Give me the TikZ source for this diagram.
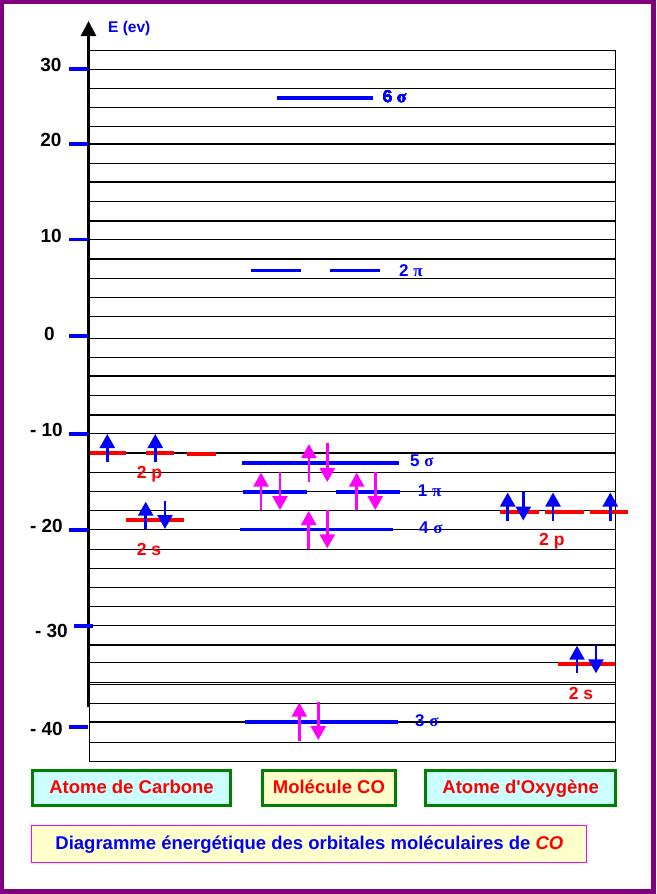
\documentclass[tikz,border=0pt]{standalone}
\usepackage{fontspec}
\setmainfont{Liberation Sans}[Ligatures=TeXOff]
\newfontfamily\grecfont{Liberation Serif}
\usetikzlibrary{arrows.meta}
\definecolor{cadre}{RGB}{128,0,128}
\definecolor{niveau}{RGB}{0,0,255}
\definecolor{atome}{RGB}{255,0,0}
\definecolor{spinmol}{RGB}{255,0,255}
\definecolor{vertbord}{RGB}{0,128,0}
\definecolor{fondcyan}{RGB}{204,255,255}
\definecolor{fondjaune}{RGB}{255,255,204}
\newcommand{\taille}[1]{\fontsize{#1}{#1}\selectfont}
\newcommand{\electron}[4]{% #1 = couleur, #2 = x, #3 = depart, #4 = pointe
  \draw[spin, #1] (#2,#3) -- (#2,#4);
}
\tikzset{
  grille/.style={line width=0.9pt},
  grillefort/.style={line width=1.8pt},
  niv/.style={line width=3.6pt, niveau},
  nivat/.style={line width=3.6pt, atome},
  spin/.style={line width=2.6pt, -{Triangle[length=14pt,width=15pt]}},
  graduation/.style={font=\taille{19}\bfseries, anchor=base east, inner sep=0pt},
  nomorb/.style={text=niveau, font=\taille{17}\bfseries, anchor=base west, inner sep=0pt},
  nomat/.style={text=atome, font=\taille{17.5}\bfseries, anchor=base west, inner sep=0pt},
  boite/.style={draw=vertbord, line width=3pt, minimum height=35pt, inner sep=0pt,
    text height=13.5pt, text depth=3.5pt, text=atome, font=\taille{18.5}\bfseries},
}
\begin{document}
\begin{tikzpicture}[x=1pt, y=-1pt]
  \useasboundingbox (0,0) rectangle (656,894);
  % cadre
  \fill[cadre] (0,0) rectangle (656,894);
  \fill[white] (3.5,3.5) rectangle (650.5,889);

  % quadrillage
  \foreach \y in {50.3,69.3,88.3,107.3,126.3,163.3,201.3,239.3,278.3,297.3,316.3,
                  338.3,357.3,395.3,433,472,491,510.3,529.3,549.3,568.3,587.3,606.3,
                  625.3,662.3,682.3,684.3,703,742.3,761.3}
    \draw[grille] (89,\y) -- (615.5,\y);
  \foreach \y in {143.7,181.7,220.7,258.7,376,414.7,452.7,644.7,721.7}
    \draw[grillefort] (89,\y) -- (615.5,\y);
  \draw[grille] (615.5,50.3) -- (615.5,761.3);
  \draw[grille] (89.3,703) -- (89.3,761.3);

  % axe des energies
  \draw[line width=2.8pt, -{Triangle[length=15pt,width=15pt]}] (88.5,707) -- (88.5,21);
  \node[text=niveau, font=\taille{15.5}\bfseries, anchor=base west, inner sep=0pt]
    (axeE) at (108,32.3) {E (ev)};
  \foreach \y in {68.7,143.7,239.3,335.7,433.7,529.7,726.7}
    \draw[niv] (69,\y) -- (88,\y);
  \draw[niv] (74,625.7) -- (92.7,625.7);
  \foreach \lab/\x/\y [count=\i] in {30/61.7/71.7, 20/61.7/146.7, 10/62/242.7, 0/55/340.7,
                                     - 10/63/436.7, - 20/63/532.7, - 30/68/637.7, - 40/63/735}
    \node[graduation] (grad\i) at (\x,\y) {\lab};

  % atome de carbone
  \draw[nivat] (90,452.7) -- (125.7,452.7);
  \draw[nivat] (146,452.7) -- (173.7,452.7);
  \draw[nivat] (187,453.7) -- (215.7,453.7);
  \draw[nivat] (126,519.7) -- (184,519.7);
  \electron{niveau}{107.3}{461.7}{434}
  \electron{niveau}{155.3}{461.7}{434}
  \electron{niveau}{145.7}{529}{501.7}
  \electron{niveau}{165}{501}{529}
  \node[nomat] (c2p) at (136.7,478.3) {2 p};
  \node[nomat] (c2s) at (136.7,555) {2 s};

  % molecule CO
  \draw[niv] (277,97.7) -- (372.7,97.7);
  \draw[niv] (251,270.3) -- (301,270.3);
  \draw[niv] (330,270.3) -- (380,270.3);
  \draw[niv] (242,462.7) -- (399,462.7);
  \draw[niv] (243.3,491.7) -- (306.7,491.7);
  \draw[niv] (336,491.7) -- (400,491.7);
  \draw[niv] (240,529.3) -- (392.7,529.3);
  \draw[niv] (245,721.7) -- (397.7,721.7);
  \foreach \x/\a/\b in {309/482/444, 327.3/443/482,
                        261/510/472.7, 280/471.7/510, 356.7/510/472.7, 375.3/471.7/510,
                        308.7/549/511, 327.3/510/548.3,
                        299.3/740.7/702.7, 318.3/701.7/740}
    \electron{spinmol}{\x}{\a}{\b}
  \node[nomorb] (o6s) at (382.7,102.3) {6 {\grecfont σ}};
  \node[nomorb] (o2pi) at (399,276) {2 {\grecfont π}};
  \node[nomorb] (o5s) at (410,466) {5 {\grecfont σ}};
  \node[nomorb] (o1pi) at (417.7,496.7) {1 {\grecfont π}};
  \node[nomorb] (o4s) at (419,533.3) {4 {\grecfont σ}};
  \node[nomorb] (o3s) at (415,726.7) {3 {\grecfont σ}};

  % atome d'oxygene
  \draw[nivat] (500,512) -- (539,512);
  \draw[nivat] (545,512) -- (584,512);
  \draw[nivat] (590,512) -- (627.7,512);
  \draw[nivat] (558,663.7) -- (615,663.7);
  \electron{niveau}{507.7}{521}{492.5}
  \electron{niveau}{523.3}{492}{520.5}
  \electron{niveau}{553}{521}{492.5}
  \electron{niveau}{610.3}{521}{492.5}
  \electron{niveau}{577}{673.3}{645.7}
  \electron{niveau}{596}{645}{673.3}
  \node[nomat] (ox2p) at (539,545.3) {2 p};
  \node[nomat] (ox2s) at (568.7,699.3) {2 s};

  % legendes
  \node[boite, fill=fondcyan, minimum width=198pt] (carbone) at (131.5,788) {Atome de Carbone};
  \node[boite, fill=fondjaune, minimum width=132.7pt] (molecule) at (328.9,788) {Molécule CO};
  \node[boite, fill=fondcyan, minimum width=189.6pt] (oxygene) at (520.7,788) {Atome d'Oxygène};
  \node[draw=spinmol, line width=0.9pt, fill=fondjaune, minimum width=555pt, minimum height=37pt,
        inner sep=0pt, text=niveau, font=\taille{18.5}\bfseries] (titre) at (309.4,844.4)
    {Diagramme énergétique des orbitales moléculaires de \textcolor{atome}{\itshape CO}};
\end{tikzpicture}
\end{document}
